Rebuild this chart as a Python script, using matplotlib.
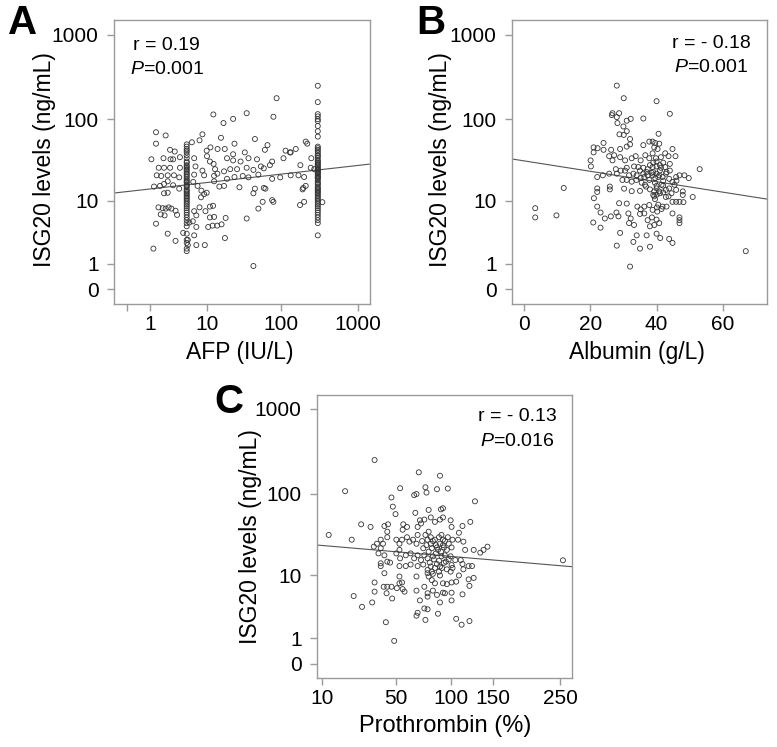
import numpy as np
import matplotlib
matplotlib.use("Agg")
import matplotlib.pyplot as plt

plt.rcParams['font.family'] = ['Liberation Sans', 'DejaVu Sans']
plt.rcParams['mathtext.fontset'] = 'custom'
plt.rcParams['mathtext.rm'] = 'Liberation Sans'
plt.rcParams['mathtext.it'] = 'Liberation Sans:italic'

# ---------------- Panel A: AFP vs ISG20 ----------------
afp_scatter = [87, 12.3, 35, 79, 17, 23, 1.4, 2.2, 8.6, 7.8, 15.7, 45, 1.4, 6, 66, 209, 219, 2.65, 3.2, 9.9,
               11.2, 14.1, 17.7, 24, 33, 61, 114, 133, 155, 1.09, 2.0, 2.7, 3.0, 3.9, 6.5, 10, 11, 12.4, 19, 23,
               23, 29, 37, 48, 76, 107, 130, 1.6, 2.05, 2.65, 3.9, 6.8, 8.6, 13, 17.3, 21, 26, 35, 43, 54,
               59, 71, 178, 243, 1.45, 1.8, 2.4, 3.1, 3.8, 6.5, 9.1, 12.6, 14, 19, 24, 31, 37, 50, 76, 97,
               133, 168, 199, 1.26, 1.7, 2.05, 2.4, 3.0, 3.8, 6.3, 7.3, 8.3, 9.1, 9.9, 12.6, 14.9, 17.3, 28, 45, 59,
               62, 194, 209, 190, 2.05, 2.4, 8.2, 43, 57, 76, 79, 50, 176, 199, 1.58, 1.93, 2.2, 2.5, 2.8, 3.3,
               1.76, 2.1, 1.4, 3.5, 6.5, 7, 7.8, 9.5, 11, 12.2, 11, 12.6, 18.2, 35, 6.2, 5.5, 7.0, 10.4, 12, 13.9,
               16, 2.4, 4.4, 6.5, 17.8, 3.3, 5.2, 5.2, 7, 9.3, 1.22, 5, 43, 344, 247, 270]
isg_scatter_A = [178, 114, 118, 107, 90, 101, 70, 64, 66, 56, 60, 58, 51, 53, 49, 54, 51, 43, 41, 42,
                 46, 44, 44, 51, 40, 43, 42, 40, 44, 33, 34, 33, 33, 35, 34, 36, 31, 29, 34, 38,
                 32, 31, 34, 33, 31, 34, 40, 26, 26, 26, 26, 27, 24, 25, 23.5, 25, 25, 26, 24.5, 27,
                 25.6, 28, 28, 26, 21, 20.6, 21, 21, 19.8, 21.4, 21, 20.7, 22, 19, 20, 20.6, 19.8, 21.4, 19, 19.8,
                 21, 21, 20, 15.2, 15.5, 16.4, 17.7, 15.8, 14.3, 17.4, 15.5, 13.5, 12.2, 12.7, 17.7, 15.2, 15.5, 14.9, 14.3, 14.6,
                 14.3, 14.6, 15.5, 14, 12.5, 12.7, 11.1, 12.5, 9.7, 10.2, 9.7, 7.9, 8.8, 9.7, 8.2, 8.0, 7.9, 8.2, 7.9, 7.4,
                 6.6, 6.4, 4.9, 6.5, 7.3, 6.4, 8.2, 7.3, 8.4, 8.6, 6.0, 6.1, 5.9, 5.8, 5.3, 5.1, 4.4, 4.4, 4.6, 4.6,
                 4.8, 3.5, 3.6, 3.3, 3.0, 2.7, 2.8, 2.3, 2.3, 2.3, 2.0, 1.8, 0.87, 9.6, 34, 25]
afp_low_value = 5      # column of samples at AFP = 5
isg_afp_low = [50, 47, 44, 42, 40, 37, 34, 31, 30, 28, 27, 26, 25, 24, 23, 22, 21, 20, 19, 18, 17.5, 17, 16,
               15.5, 15, 14, 13.5, 13, 12.5, 12, 11.5, 11, 10.5, 10, 9.5, 9, 8.5, 8, 7.5, 7, 6.5, 6, 5.5,
               5, 4.5, 3.5, 2.8, 2.5, 2.0]
afp_high_value = 300   # column of samples at AFP = 300
isg_afp_high = [250, 160, 115, 108, 100, 95, 83, 72, 62, 47, 45, 43, 41, 39, 37, 36, 34, 32, 31, 30, 29, 28,
                27, 26, 25, 24.5, 24, 23, 22.5, 22, 21, 20.5, 20, 19.5, 19, 18, 17, 16.5, 16, 15, 14.5, 14,
                13.5, 13, 12.5, 12, 11.5, 11, 10.5, 10, 9.5, 9, 8.5, 8, 7.5, 7, 6.5, 6, 5.5, 5, 3.3]
fit_A = (1.150, 0.103)   # log10(y+1) = a + b*log10(x+1)

# ---------------- Panel B: Albumin vs ISG20 ----------------
albumin = [28, 30.1, 40, 26.7, 26.5, 28.7, 28, 36, 44, 32.2, 31, 28.2, 30, 31, 28.8, 30.1, 40.6, 32, 24, 21,
           21, 22.2, 24, 26.3, 29, 31, 32, 36, 37.8, 38.8, 39.6, 40.8, 39.3, 40.3, 44.8, 20.1, 20.2, 25.7, 27.2, 26.7,
           29, 30.5, 32.5, 33.7, 35.2, 36.6, 37.8, 38.8, 39.8, 41.3, 42.6, 43.6, 45.7, 53, 22.1, 23.8, 25.7, 27.7, 29.2, 30.5,
           31.7, 33.2, 34.5, 36, 37.3, 38.8, 40, 41.3, 42.6, 44, 29.7, 31, 32.5, 33.9, 35.2, 36.3, 37.3, 37.8, 38.8, 39.6,
           40.8, 41.8, 42.8, 45.9, 46.9, 48.4, 49.7, 43.8, 44.8, 12, 22.1, 22.1, 25.9, 25.9, 30.2, 32.5, 35, 36.8, 38, 39.3,
           40, 40.8, 42, 42.8, 43.8, 45.4, 45.9, 47.9, 47.9, 21.1, 39, 39.3, 42.8, 43.6, 50.9, 44.8, 45.9, 46.9, 48.1, 3.4,
           3.4, 9.8, 28.7, 31, 34.2, 35.2, 36.3, 37.8, 38.8, 40.1, 41.8, 43, 22.1, 23.1, 20.9, 23.1, 24.4, 26.2, 27.9, 28.5,
           31.5, 32.2, 31.7, 33.2, 35, 36.3, 37.3, 38.6, 40, 40.8, 39.3, 38, 44.8, 46.9, 46.9, 46.9, 29, 34, 37, 40,
           41.1, 43.8, 44.8, 28, 33, 35, 38, 66.9, 32,
           39, 40, 41, 40.5, 39.5, 41.5, 40, 38.5, 42, 41, 39, 40, 42, 38, 37, 36, 35, 34, 41, 40,
           42, 39.5, 40.5, 41.5, 40.2, 36.5, 35.5, 33, 31, 28, 43, 44, 46, 44.5]
isg_B = [251, 178, 164, 118, 112, 118, 106, 102, 116, 101, 96, 90, 82, 72, 66, 65, 67, 58, 52, 46,
         40, 45, 43, 43, 44, 47, 50, 49, 54, 54, 52, 51, 46, 44, 44, 32, 27, 36, 37, 32,
         35, 32, 34, 36, 32, 37, 34, 39, 34, 35, 39, 36, 36, 25, 20, 21, 22, 25, 24, 24,
         21, 27, 26.5, 26, 25, 26.5, 27, 26, 26.5, 29, 18.4, 18.4, 17.5, 18.4, 19.4, 20, 21, 18.4, 21, 19.4,
         21, 20, 22, 20, 21, 21, 19.4, 19, 17.4, 14.6, 14.4, 13, 15.2, 14, 14.3, 13.3, 13.4, 15.2, 14, 13.2,
         14.4, 13.2, 15.6, 13.8, 14.4, 16, 13.8, 13.2, 11.9, 10.8, 11.9, 11.4, 11.2, 11.4, 11.2, 9.7, 9.7, 9.7, 9.6, 8.0,
         6.0, 6.4, 9.3, 9.2, 8.4, 7.7, 8.4, 8.8, 7.6, 8.2, 8.4, 8.4, 8.4, 7.0, 5.1, 4.3, 5.8, 6.2, 7.0, 6.2,
         6.8, 5.8, 5.0, 4.7, 6.7, 6.8, 5.5, 6.0, 5.6, 5.0, 4.7, 4.5, 6.8, 6.0, 5.5, 5.0, 3.6, 3.3, 3.3, 3.5,
         3.0, 2.9, 2.5, 2.25, 2.6, 2.0, 2.16, 1.8, 0.84,
         23, 22, 24, 20, 17, 16, 15.5, 22.5, 18, 28, 30, 31, 30, 28, 23, 22, 24, 21, 12.5, 12,
         12.8, 10.5, 8.9, 7.8, 7.2, 16, 17, 22, 26, 22, 23, 24, 18, 12.5]
fit_B = (1.513, -0.00616)   # log10(y+1) = a + b*x

# ---------------- Panel C: Prothrombin vs ISG20 ----------------
prothrombin = [35.5, 19.3, 69, 89, 53.5, 75, 76, 67, 65, 86, 97, 127.5, 47, 48, 50, 66, 70, 78, 90, 92,
               27.5, 33, 42, 44.5, 56, 59, 55.5, 68, 71, 74, 80, 84, 89, 92, 100, 101, 109, 113, 122, 12.4,
               22.5, 35, 37, 39.5, 39.5, 41, 44, 44, 50.6, 53, 53, 55, 59, 61, 64, 67, 68, 72, 73, 75,
               77, 78, 80, 81, 84, 86, 88, 89, 90.5, 92, 93, 97, 98, 101, 102, 108, 114, 116, 126, 134,
               138, 143, 255, 38, 42, 50.6, 53.5, 58, 62, 65, 68, 71, 74, 77, 79, 82, 85, 88, 90.5, 94,
               95, 100, 101, 105, 111, 113, 120, 124, 39.5, 39.5, 44, 46, 53, 58, 62, 68, 73, 77, 77, 81,
               84, 88, 91, 100, 102, 114, 126, 42, 67, 78, 81, 84, 89, 92, 96, 101, 106, 109, 120, 121,
               53, 53, 55, 55.5, 35.5, 41.5, 44, 47, 51, 57, 67, 74, 77, 77, 82, 86, 92, 94, 101, 113,
               23.5, 35.5, 43.5, 47.5, 34, 28, 70, 89, 101, 74, 77, 68, 67, 87, 75, 106, 112, 121, 43, 49,
               80, 82, 85, 87, 90, 92, 94, 96, 78, 76, 83, 86, 89, 93, 96, 98, 80, 82]
isg_C = [250, 107, 179, 163, 116, 119, 103, 99, 96, 113, 115, 81, 90, 70, 57, 59, 48, 64, 65, 67,
         43, 40, 41, 43, 43, 40, 37, 40, 44, 49, 52, 46, 49, 52, 48, 40, 34, 41, 46, 32,
         28, 23, 25, 28, 22, 25, 30, 35, 28, 25, 21, 28, 30, 26.5, 28, 25, 32, 27, 22, 32,
         28, 35, 25, 22, 28, 22.5, 30, 25, 32, 28, 22.5, 30, 25, 22.5, 28, 28, 26.5, 21, 21, 19.4,
         21, 23, 15.6, 19, 18, 19, 16.5, 18, 19, 16.5, 18, 15.7, 18, 16.5, 14.6, 17.5, 19, 15.4, 17.5, 18,
         15, 17.5, 13.6, 15.7, 15.7, 14, 13.2, 13.2, 14.3, 13.2, 15, 14.6, 13.2, 13.2, 13.8, 13.2, 13.8, 11.8, 10.7, 11.2,
         12.5, 11.2, 12.5, 11.2, 12.5, 12, 9.3, 10.7, 9.7, 9.7, 8.7, 7.9, 10, 7.9, 7.7, 8.1, 8.3, 10, 8.9, 7.3,
         9.7, 7.9, 8.1, 6.6, 8.1, 7.1, 7.1, 7.1, 6.8, 6.1, 6.3, 7.1, 5.8, 5.2, 6.3, 5.5, 5.9, 5.8, 5.9, 5.6,
         5.3, 6.1, 5.8, 4.9, 4.3, 3.7, 4.6, 4.3, 4.6, 3.5, 3.4, 3.0, 2.7, 2.9, 2.3, 2.4, 1.9, 2.2, 2.1, 0.87,
         30, 27, 24, 21, 20, 24, 27, 21, 20, 24, 16, 14, 13, 14.5, 12, 16, 13, 10.5]
fit_C = (1.454, -0.0188)   # log10(y+1) = a + b*sqrt(x)

y_ticks = [0, 1, 10, 100, 1000]
xticks_A = [0, 1, 10, 100, 1000]
xlabels_A = ['', '1', '10', '100', '1000']
xticks_B = [0, 20, 40, 60]
xticks_C = [10, 50, 100, 150, 250]

# ---------------- scales ----------------
def lp(v):
    return np.log10(np.maximum(np.asarray(v, dtype=float) + 1.0, 1e-9))

def lp_inv(t):
    return 10.0 ** np.asarray(t, dtype=float) - 1.0

def sq(v):
    return np.sqrt(np.maximum(np.asarray(v, dtype=float), 0))

def sq_inv(t):
    return np.asarray(t, dtype=float) ** 2

W, H = 777, 747
fig = plt.figure(figsize=(W / 100, H / 100), dpi=100)

def box(l, t, r, b):
    return [l / W, 1 - b / H, (r - l) / W, (b - t) / H]

axA = fig.add_axes(box(114, 20, 370, 304))
axB = fig.add_axes(box(512, 20, 767, 304))
axC = fig.add_axes(box(317, 395, 572, 678))

spine_col = '#9a9a9a'
for ax in (axA, axB, axC):
    ax.set_yscale('function', functions=(lp, lp_inv))
    for s in ax.spines.values():
        s.set_color(spine_col)
        s.set_linewidth(1.0)
    ax.set_yticks(y_ticks)
    ax.set_yticklabels([str(v) for v in y_ticks])
    ax.minorticks_off()
    ax.tick_params(axis='both', direction='out', length=5, width=1, color=spine_col,
                   labelsize=15, labelcolor='black')
    ax.tick_params(axis='y', pad=6)
    ax.tick_params(axis='x', pad=3)

marker_kw = dict(s=13, facecolors='none', edgecolors='#333333', linewidths=0.6, zorder=3)
line_kw = dict(color='#555555', lw=0.8, zorder=2)

# Panel A
afp_all = afp_scatter + [afp_low_value] * len(isg_afp_low) + [afp_high_value] * len(isg_afp_high)
isg_all_A = isg_scatter_A + isg_afp_low + isg_afp_high
axA.set_xscale('function', functions=(lp, lp_inv))
axA.scatter(afp_all, isg_all_A, **marker_kw)
xlimA = (lp_inv(-0.165), lp_inv(3.156))
xx = lp_inv(np.linspace(-0.165, 3.156, 50))
axA.plot(xx, lp_inv(fit_A[0] + fit_A[1] * lp(xx)), **line_kw)
axA.set_xlim(*xlimA)
axA.set_ylim(lp_inv(-0.177), lp_inv(3.176))
axA.set_xticks(xticks_A)
axA.set_xticklabels(xlabels_A)
axA.minorticks_off()

# Panel B
axB.scatter(albumin, isg_B, **marker_kw)
xx = np.linspace(-3.6, 73.3, 50)
axB.plot(xx, lp_inv(fit_B[0] + fit_B[1] * xx), **line_kw)
axB.set_xlim(-3.6, 73.3)
axB.set_ylim(lp_inv(-0.177), lp_inv(3.176))
axB.set_xticks(xticks_B)
axB.set_xticklabels([str(v) for v in xticks_B])

# Panel C
axC.set_xscale('function', functions=(sq, sq_inv))
axC.scatter(prothrombin, isg_C, **marker_kw)
xx = sq_inv(np.linspace(np.sqrt(8.4), np.sqrt(270.6), 50))
axC.plot(xx, lp_inv(fit_C[0] + fit_C[1] * sq(xx)), **line_kw)
axC.set_xlim(8.4, 270.6)
axC.set_ylim(lp_inv(-0.165), lp_inv(3.165))
axC.set_xticks(xticks_C)
axC.set_xticklabels([str(v) for v in xticks_C])
axC.minorticks_off()

# ---------------- texts ----------------
def ftext(x, y, s, **kw):
    fig.text(x / W, 1 - y / H, s, **kw)

lab_fs = 16.5
ylab = 'ISG20 levels (ng/mL)'
ftext(45, 160, ylab, rotation=90, ha='center', va='center', fontsize=lab_fs)
ftext(440, 160, ylab, rotation=90, ha='center', va='center', fontsize=lab_fs)
ftext(250, 537, ylab, rotation=90, ha='center', va='center', fontsize=lab_fs)
ftext(240, 352, 'AFP (IU/L)', ha='center', va='center', fontsize=lab_fs)
ftext(637, 352, 'Albumin (g/L)', ha='center', va='center', fontsize=lab_fs)
ftext(445, 726, 'Prothrombin (%)', ha='center', va='center', fontsize=17)

ann_fs = 14
ftext(133, 46, 'r = 0.19', ha='left', va='center', fontsize=ann_fs)
ftext(130, 69, r'$\mathit{P}$=0.001', ha='left', va='center', fontsize=ann_fs)
ftext(751, 44, 'r = - 0.18', ha='right', va='center', fontsize=ann_fs)
ftext(748, 68, r'$\mathit{P}$=0.001', ha='right', va='center', fontsize=ann_fs)
ftext(557, 417, 'r = - 0.13', ha='right', va='center', fontsize=ann_fs)
ftext(554, 442, r'$\mathit{P}$=0.016', ha='right', va='center', fontsize=ann_fs)

let_fs = 29
ftext(8, 23, 'A', ha='left', va='center', fontsize=let_fs, fontweight='bold')
ftext(416, 23, 'B', ha='left', va='center', fontsize=let_fs, fontweight='bold')
ftext(214, 402, 'C', ha='left', va='center', fontsize=let_fs, fontweight='bold')

fig.savefig('out.png', dpi=100)
